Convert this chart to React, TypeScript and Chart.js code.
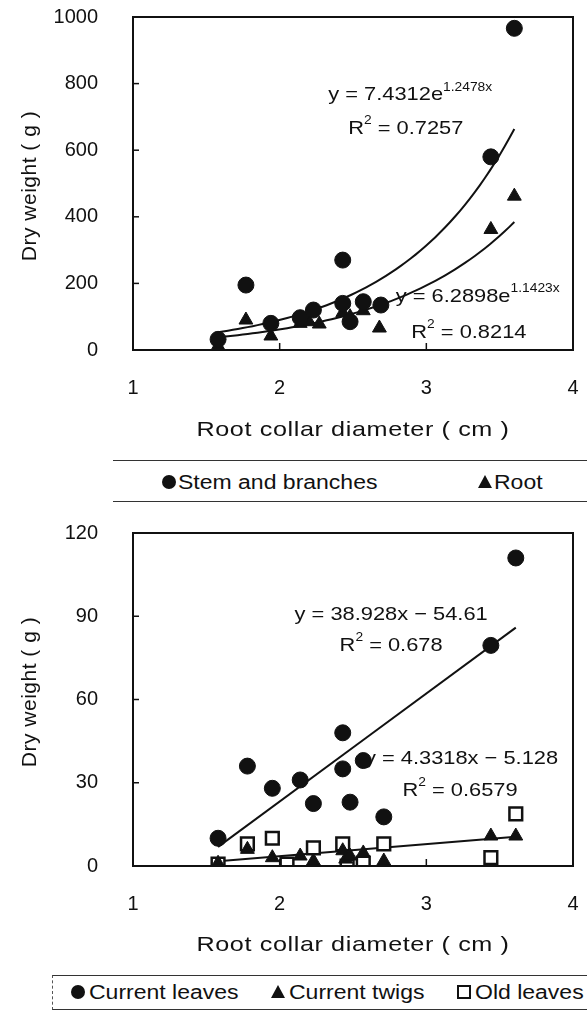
import React, { useEffect, useRef } from "react";
import { Chart, registerables } from "chart.js";

Chart.register(...registerables);

const FONT = "'Liberation Sans', Arial, Helvetica, sans-serif";
const INK = "#111";

// Axis ticks
const xTickValues = [1, 2, 3, 4];
const yTicksTop = [0, 200, 400, 600, 800, 1000];
const yTicksBottom = [0, 30, 60, 90, 120];

// Upper panel: stem + branches and root dry weight (g) against root collar diameter (cm)
const stemDiameter = [1.58, 1.77, 1.94, 2.14, 2.23, 2.43, 2.43, 2.48, 2.57, 2.69, 3.44, 3.6];
const stemWeight = [32, 195, 80, 97, 120, 270, 140, 85, 145, 135, 580, 966];
const rootDiameter = [1.58, 1.77, 1.94, 2.14, 2.2, 2.27, 2.43, 2.48, 2.57, 2.68, 3.44, 3.6];
const rootWeight = [12, 90, 42, 80, 85, 78, 112, 100, 118, 66, 362, 462];

// Lower panel: leaves and twigs dry weight (g)
const leafDiameter = [1.58, 1.78, 1.95, 2.14, 2.23, 2.43, 2.43, 2.48, 2.57, 2.71, 3.44, 3.61];
const currentLeaves = [10, 36, 28, 31, 22.5, 48, 35, 23, 38, 17.7, 79.5, 111];
const twigDiameter = [1.58, 1.78, 1.95, 2.14, 2.23, 2.43, 2.45, 2.48, 2.57, 2.71, 3.44, 3.61];
const currentTwigs = [1, 6, 3, 3.6, 1.8, 5.5, 2.5, 3.6, 4.7, 1.8, 10.8, 10.8];
const oldLeafDiameter = [1.58, 1.78, 1.95, 2.05, 2.23, 2.43, 2.46, 2.57, 2.71, 3.44, 3.61];
const oldLeaves = [0.7, 8, 10, 0.7, 6.5, 8, 0, 1, 8, 3, 18.8];

// Regression fits (y = a·e^(b·x) and y = m·x + c)
const stemFit = { a: 7.4312, b: 1.2478, r2: "0.7257" };
const rootFit = { a: 6.2898, b: 1.1423, r2: "0.8214" };
const leafFit = { m: 38.928, c: -54.61, r2: "0.678" };
const twigFit = { m: 4.3318, c: -5.128, r2: "0.6579" };

const TEXT_STRETCH = 1.15;

type Piece = { text: string; sup?: boolean };
type Note = { x: number; y: number; pieces: Piece[] };

function curve(xs: number[], f: (x: number) => number, steps = 60) {
  const lo = Math.min(...xs);
  const hi = Math.max(...xs);
  const pts: { x: number; y: number }[] = [];
  for (let i = 0; i <= steps; i++) {
    const x = lo + ((hi - lo) * i) / steps;
    pts.push({ x, y: f(x) });
  }
  return pts;
}

function pairs(xs: number[], ys: number[]) {
  return ys.map((y, i) => ({ x: xs[i], y }));
}

function expLabel(fit: { a: number; b: number }): Piece[] {
  return [{ text: `y = ${fit.a}e` }, { text: `${fit.b}x`, sup: true }];
}
function linLabel(fit: { m: number; c: number }): Piece[] {
  return [{ text: `y = ${fit.m}x \u2212 ${Math.abs(fit.c)}` }];
}
function r2Label(r2: string): Piece[] {
  return [{ text: "R" }, { text: "2", sup: true }, { text: ` = ${r2}` }];
}

function drawRich(ctx: CanvasRenderingContext2D, pieces: Piece[], cx: number, cy: number) {
  const main = `19px ${FONT}`;
  const sup = `12px ${FONT}`;
  ctx.save();
  ctx.translate(cx, cy);
  ctx.scale(TEXT_STRETCH, 1);
  ctx.textBaseline = "middle";
  ctx.textAlign = "left";
  ctx.fillStyle = INK;
  let w = 0;
  for (const p of pieces) {
    ctx.font = p.sup ? sup : main;
    w += ctx.measureText(p.text).width;
  }
  let x = -w / 2;
  for (const p of pieces) {
    ctx.font = p.sup ? sup : main;
    ctx.fillText(p.text, x, p.sup ? -8 : 0);
    x += ctx.measureText(p.text).width;
  }
  ctx.restore();
}

// Frame box, inward tick marks and fit equations
const framePlugin = {
  id: "frame",
  beforeDatasetsDraw(chart: any, _args: any, opts: any) {
    const { ctx, scales } = chart;
    (opts.notes || []).forEach((n: Note) => {
      drawRich(ctx, n.pieces, scales.x.getPixelForValue(n.x), scales.y.getPixelForValue(n.y));
    });
  },
  afterDatasetsDraw(chart: any) {
    const { ctx, chartArea: a, scales } = chart;
    ctx.save();
    ctx.strokeStyle = INK;
    ctx.lineWidth = 2;
    ctx.strokeRect(a.left, a.top, a.right - a.left, a.bottom - a.top);
    ctx.lineWidth = 1.5;
    scales.y.ticks.forEach((t: any) => {
      if (t.value === scales.y.min || t.value === scales.y.max) return;
      const py = scales.y.getPixelForValue(t.value);
      ctx.beginPath();
      ctx.moveTo(a.left, py);
      ctx.lineTo(a.left + 6, py);
      ctx.stroke();
    });
    scales.x.ticks.forEach((t: any) => {
      if (t.value === scales.x.min || t.value === scales.x.max) return;
      const px = scales.x.getPixelForValue(t.value);
      ctx.beginPath();
      ctx.moveTo(px, a.bottom);
      ctx.lineTo(px, a.bottom - 7);
      ctx.stroke();
    });
    ctx.restore();
  },
};

function markers(label: string, data: any[], style: string, order: number) {
  const open = style === "rect";
  return {
    type: "scatter",
    label,
    data,
    pointStyle: style,
    pointRadius: style === "circle" ? 8 : style === "triangle" ? 8 : 9,
    pointBackgroundColor: open ? "#fff" : INK,
    pointBorderColor: INK,
    pointBorderWidth: open ? 2.5 : 1,
    order,
  };
}

function fitLine(label: string, data: any[]) {
  return {
    type: "line",
    label,
    data,
    borderColor: INK,
    borderWidth: 2,
    pointRadius: 0,
    fill: false,
    tension: 0,
    order: 10,
  };
}

function makeConfig(datasets: any[], yTicks: number[], notes: Note[]) {
  const tickFont = { family: FONT, size: 20 };
  return {
    type: "scatter",
    data: { datasets },
    options: {
      animation: false,
      responsive: false,
      devicePixelRatio: 1,
      layout: { padding: { top: 17, right: 14, left: 0, bottom: 0 } },
      plugins: {
        legend: { display: false },
        tooltip: { enabled: false },
        frame: { notes },
      },
      scales: {
        x: {
          type: "linear",
          min: xTickValues[0],
          max: xTickValues[xTickValues.length - 1],
          afterBuildTicks: (s: any) => {
            s.ticks = xTickValues.map((v) => ({ value: v }));
          },
          afterFit: (s: any) => {
            s.height = 95;
            s.paddingLeft = 0;
            s.paddingRight = 0;
          },
          grid: { display: false, drawTicks: false },
          border: { display: false },
          ticks: { font: tickFont, color: INK, padding: 26, callback: (v: any) => String(v) },
        },
        y: {
          type: "linear",
          min: yTicks[0],
          max: yTicks[yTicks.length - 1],
          afterBuildTicks: (s: any) => {
            s.ticks = yTicks.map((v) => ({ value: v }));
          },
          afterFit: (s: any) => {
            s.width = 133;
            s.paddingTop = 0;
            s.paddingBottom = 0;
          },
          grid: { display: false, drawTicks: false },
          border: { display: false },
          ticks: { font: tickFont, color: INK, padding: 35, callback: (v: any) => String(v) },
        },
      },
    },
    plugins: [framePlugin],
  };
}

function topConfig() {
  const datasets = [
    fitLine("Stem fit", curve(stemDiameter, (x) => stemFit.a * Math.exp(stemFit.b * x))),
    fitLine("Root fit", curve(rootDiameter, (x) => rootFit.a * Math.exp(rootFit.b * x))),
    markers("Stem and branches", pairs(stemDiameter, stemWeight), "circle", 1),
    markers("Root", pairs(rootDiameter, rootWeight), "triangle", 2),
  ];
  const notes: Note[] = [
    { x: 2.89, y: 765, pieces: expLabel(stemFit) },
    { x: 2.86, y: 665, pieces: r2Label(stemFit.r2) },
    { x: 3.35, y: 160, pieces: expLabel(rootFit) },
    { x: 3.29, y: 52, pieces: r2Label(rootFit.r2) },
  ];
  return makeConfig(datasets, yTicksTop, notes);
}

function bottomConfig() {
  const datasets = [
    fitLine("Leaf fit", curve(leafDiameter, (x) => leafFit.m * x + leafFit.c, 2)),
    fitLine("Twig fit", curve(twigDiameter, (x) => twigFit.m * x + twigFit.c, 2)),
    markers("Current leaves", pairs(leafDiameter, currentLeaves), "circle", 1),
    markers("Current twigs", pairs(twigDiameter, currentTwigs), "triangle", 2),
    markers("Old leaves", pairs(oldLeafDiameter, oldLeaves), "rect", 3),
  ];
  const notes: Note[] = [
    { x: 2.76, y: 90.4, pieces: linLabel(leafFit) },
    { x: 2.76, y: 79.5, pieces: r2Label(leafFit.r2) },
    { x: 3.24, y: 38.7, pieces: linLabel(twigFit) },
    { x: 3.23, y: 27.1, pieces: r2Label(twigFit.r2) },
  ];
  return makeConfig(datasets, yTicksBottom, notes);
}

const stretched = (extra: React.CSSProperties = {}): React.CSSProperties => ({
  position: "absolute",
  whiteSpace: "nowrap",
  lineHeight: 1,
  fontSize: 20,
  transformOrigin: "left center",
  transform: `translateY(-50%) scaleX(${TEXT_STRETCH})`,
  ...extra,
});

const dot = (left: number, top: number): React.CSSProperties => ({
  position: "absolute",
  left,
  top: top - 7,
  width: 14,
  height: 14,
  borderRadius: "50%",
  background: INK,
});
const tri = (left: number, top: number): React.CSSProperties => ({
  position: "absolute",
  left,
  top: top - 7,
  width: 0,
  height: 0,
  borderLeft: "7px solid transparent",
  borderRight: "7px solid transparent",
  borderBottom: `13px solid ${INK}`,
});
const box = (left: number, top: number): React.CSSProperties => ({
  position: "absolute",
  left,
  top: top - 7,
  width: 14,
  height: 14,
  boxSizing: "border-box",
  border: `2.5px solid ${INK}`,
  background: "#fff",
});

function YTitle({ cy }: { cy: number }) {
  return (
    <div
      style={{
        position: "absolute",
        left: 28,
        top: cy,
        fontSize: 21,
        letterSpacing: 0.5,
        whiteSpace: "nowrap",
        lineHeight: 1,
        transform: "translate(-50%, -50%) rotate(-90deg)",
      }}
    >
      Dry weight ( g )
    </div>
  );
}

function XTitle({ cy }: { cy: number }) {
  return (
    <div
      style={{
        position: "absolute",
        left: 353,
        top: cy,
        fontSize: 21,
        letterSpacing: 0.5,
        whiteSpace: "nowrap",
        lineHeight: 1,
        transform: "translate(-50%, -50%) scaleX(1.2)",
      }}
    >
      Root collar diameter ( cm )
    </div>
  );
}

export default function App() {
  const topRef = useRef<HTMLCanvasElement>(null);
  const botRef = useRef<HTMLCanvasElement>(null);

  useEffect(() => {
    const top = new Chart(topRef.current as HTMLCanvasElement, topConfig() as any);
    const bot = new Chart(botRef.current as HTMLCanvasElement, bottomConfig() as any);
    return () => {
      top.destroy();
      bot.destroy();
    };
  }, []);

  return (
    <div
      style={{
        position: "absolute",
        left: 0,
        top: 0,
        width: 587,
        height: 1010,
        background: "#fff",
        color: INK,
        fontFamily: FONT,
        overflow: "hidden",
      }}
    >
      <canvas ref={topRef} width={587} height={445} style={{ position: "absolute", left: 0, top: 0 }} />
      <canvas ref={botRef} width={587} height={445} style={{ position: "absolute", left: 0, top: 516 }} />

      <YTitle cy={186} />
      <XTitle cy={428} />
      <div
        style={{
          position: "absolute",
          left: 113,
          top: 460,
          width: 474,
          height: 42,
          boxSizing: "border-box",
          borderTop: `1.5px solid #333`,
          borderBottom: `1.5px solid #333`,
        }}
      >
        <div style={dot(49, 21)} />
        <div style={stretched({ left: 65, top: 21 })}>Stem and branches</div>
        <div style={tri(365, 21)} />
        <div style={stretched({ left: 381, top: 21 })}>Root</div>
      </div>

      <YTitle cy={692} />
      <XTitle cy={943} />
      <div
        style={{
          position: "absolute",
          left: 52,
          top: 975,
          width: 535,
          height: 35,
          boxSizing: "border-box",
          borderTop: `1.5px solid #333`,
          borderBottom: `1.5px solid #333`,
          borderLeft: `1.5px dashed #555`,
        }}
      >
        <div style={dot(18, 16)} />
        <div style={stretched({ left: 36, top: 16 })}>Current leaves</div>
        <div style={tri(218, 16)} />
        <div style={stretched({ left: 236, top: 16 })}>Current twigs</div>
        <div style={box(404, 16)} />
        <div style={stretched({ left: 422, top: 16 })}>Old leaves</div>
      </div>
    </div>
  );
}
